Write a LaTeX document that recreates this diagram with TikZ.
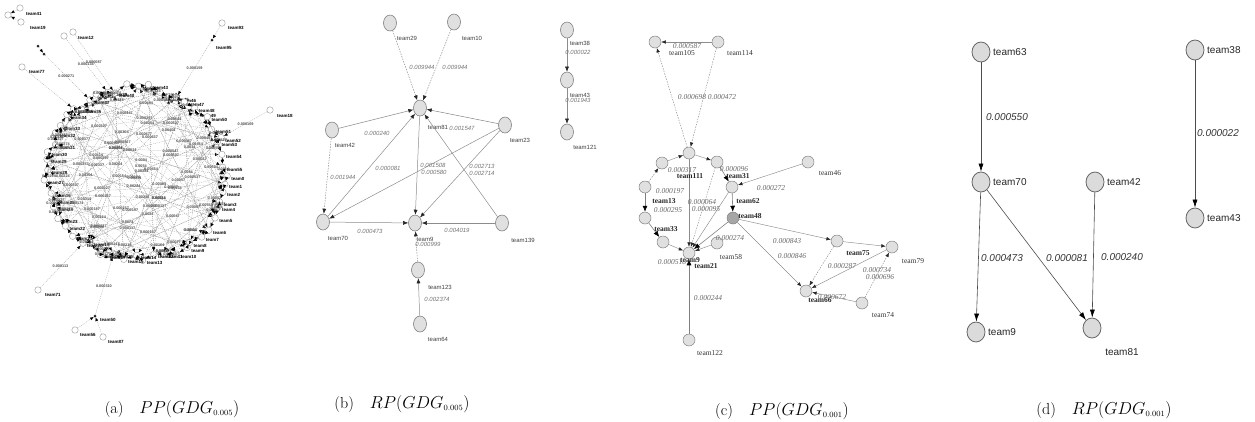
\documentclass[tikz,border=0pt]{standalone}
\usepackage{fontspec}
\newfontfamily\sfarial{Liberation Sans}
\newfontfamily\serifT{Liberation Serif}
\usetikzlibrary{arrows.meta,shapes.geometric}
\tikzset{
  ndd/.style={ellipse, draw=black!60, fill=black!14, line width=0.8pt, minimum width=18pt, minimum height=20pt, inner sep=0pt},
  ndb/.style={ellipse, draw=black!50, fill=black!12, line width=0.6pt, minimum width=13pt, minimum height=16pt, inner sep=0pt},
  ndc/.style={circle, draw=black!50, fill=black!12, line width=0.5pt, minimum size=12pt, inner sep=0pt},
  ndcg/.style={ndc, fill=black!35},
  nda/.style={circle, draw=black!45, fill=white, line width=0.35pt, minimum size=6.5pt, inner sep=0pt},
  ndak/.style={circle, fill=black!85, minimum size=3pt, inner sep=0pt},
  ed/.style={draw=black!70, line width=0.6pt, -{Latex[length=8pt,width=5pt,color=black]}},
  eb/.style={draw=black!45, line width=0.5pt, -{Latex[length=5pt,width=4pt,color=black!85]}},
  ebd/.style={eb, dash pattern=on 1.5pt off 1.2pt},
  ec/.style={draw=black!45, line width=0.45pt, -{Latex[length=4.5pt,width=3.5pt,color=black!85]}},
  ecd/.style={ec, dash pattern=on 1.5pt off 1.2pt},
  ecT/.style={draw=black!50, line width=0.6pt, -{Latex[length=6pt,width=5pt,color=black]}},
  ea/.style={draw=black!38, line width=0.3pt, dash pattern=on 1pt off 1pt, -{Latex[length=3.5pt,width=3pt,color=black]}},
  ear/.style={draw=black!60, line width=0.45pt, -{Latex[length=4pt,width=3.5pt,color=black]}},
  tld/.style={font=\sfarial\fontsize{10}{12}\selectfont, text=black!85, inner sep=0pt},
  eld/.style={font=\sfarial\itshape\fontsize{10}{12}\selectfont, text=black!80, inner sep=0pt},
  tlb/.style={font=\sfarial\fontsize{6}{7}\selectfont, text=black!75, inner sep=0pt},
  elb/.style={font=\sfarial\itshape\fontsize{6}{7}\selectfont, text=black!55, inner sep=0pt},
  tlc/.style={font=\serifT\fontsize{7.5}{9}\selectfont, text=black!80, inner sep=0pt},
  tlcb/.style={font=\serifT\bfseries\fontsize{7.5}{9}\selectfont, text=black!85, inner sep=0pt},
  elc/.style={font=\serifT\itshape\fontsize{7.5}{9}\selectfont, text=black!60, inner sep=0pt},
  tla/.style={font=\sfarial\bfseries\fontsize{4.5}{5}\selectfont, text=black, inner sep=0pt},
  ela/.style={font=\sfarial\bfseries\fontsize{3.8}{4}\selectfont, text=black!70, inner sep=0pt},
  captxt/.style={font=\fontsize{16}{19}\selectfont, inner sep=0pt},
}
\begin{document}
\begin{tikzpicture}[x=1pt,y=-1pt]
\useasboundingbox (0,0) rectangle (1255,421);

%% ---------------- panel (a) ----------------
\pgfmathsetseed{11}
\foreach \i in {0,...,55}{
  \pgfmathsetmacro\ang{\i*6.42857+3*rand}
  \pgfmathsetmacro\rr{1+0.05*rand}
  \node[nda] (a\i) at ({137+90*\rr*cos(\ang)},{173+86*\rr*sin(\ang)}) {};
  \node[tla, anchor=west] (al\i) at ({141+90*\rr*cos(\ang)},{176+86*\rr*sin(\ang)}) {team\i};
}
\foreach \i in {0,...,55}{
  \pgfmathtruncatemacro\j{mod(\i*17+9,56)}
  \pgfmathtruncatemacro\k{mod(\i*23+31,56)}
  \pgfmathtruncatemacro\m{mod(\i*13+20,56)}
  \pgfmathtruncatemacro\n{mod(\i+1,56)}
  \draw[ea] (a\i) -- node[ela, pos=0.3]{0.000\i 7} (a\j);
  \draw[ea] (a\i) -- node[ela]{0.00\i 4} (a\k);
  \draw[ea] (a\i) -- (a\m);
  \draw[ear] (a\i) -- (a\n);
}
\node[nda] (o1) at (8,15) {};
\node[nda] (o2) at (20,8) {};
\node[nda] (o3) at (21,22) {};
\node[ndak] (o12) at (38,46) {};
\node[ndak] (o13) at (44,54) {};
\node[nda] (o4) at (22,67) {};
\node[nda] (o5) at (64,36) {};
\node[nda] (o6) at (73,32) {};
\node[nda] (o7) at (222,23) {};
\node[ndak] (o14) at (212,40) {};
\node[nda] (o8) at (270,110) {};
\node[nda] (o9) at (38,290) {};
\node[ndak] (o15) at (95,316) {};
\node[nda] (o10) at (75,330) {};
\node[nda] (o11) at (103,337) {};
\node[tla, anchor=west] (ol1) at (26,14) {team41};
\node[tla, anchor=west] (ol2) at (30,28) {team19};
\node[tla, anchor=west] (ol4) at (29,72) {team77};
\node[tla, anchor=west] (ol5) at (78,38) {team12};
\node[tla, anchor=west] (ol7) at (228,28) {team93};
\node[tla, anchor=west] (ol14) at (216,48) {team95};
\node[tla, anchor=west] (ol8) at (277,116) {team18};
\node[tla, anchor=west] (ol9) at (45,295) {team71};
\node[tla, anchor=west] (ol10) at (80,335) {team56};
\node[tla, anchor=west] (ol11) at (108,342) {team87};
\node[tla, anchor=west] (ol15) at (100,320) {team50};
\draw[ea] (o2) -- (o1);
\draw[ea] (o3) -- (o1);
\draw[ea] (o12) -- (o13);
\draw[ea] (o13) -- node[ela]{0.000271} (a37);
\draw[ea] (o5) -- node[ela]{0.000134} (a39);
\draw[ea] (o6) -- node[ela]{0.000087} (a40);
\draw[ea] (o4) -- (a35);
\draw[ea] (o7) -- (o14);
\draw[ea] (o14) -- node[ela]{0.000159} (a46);
\draw[ea] (o8) -- node[ela]{0.000169} (a52);
\draw[ea] (o9) -- node[ela]{0.000113} (a20);
\draw[ea] (o15) -- node[ela]{0.000310} (a16);
\draw[ea] (o10) -- (o15);
\draw[ea] (o11) -- (o15);

%% ---------------- panel (b) ----------------
\node[ndb] (b29) at (390,23) {};
\node[ndb] (b10) at (454,22) {};
\node[ndb] (b81) at (420,108) {};
\node[ndb] (b42) at (332,130) {};
\node[ndb] (b23) at (505,125) {};
\node[ndb] (b70) at (323,222) {};
\node[ndb] (b9) at (415,223) {};
\node[ndb] (b139) at (502,223) {};
\node[ndb] (b123) at (418,270) {};
\node[ndb] (b64) at (420,324) {};
\node[ndb] (b38) at (567,30) {};
\node[ndb] (b43) at (567,80) {};
\node[ndb] (b121) at (567,132) {};
\node[tlb] (lb29) at (407,38) {team29};
\node[tlb] (lb10) at (472,38) {team10};
\node[tlb] (lb81) at (438,127) {team81};
\node[tlb] (lb42) at (345,145) {team42};
\node[tlb] (lb23) at (520,140) {team23};
\node[tlb] (lb70) at (338,238) {team70};
\node[tlb] (lb9) at (425,239) {team9};
\node[tlb] (lb139) at (523,240) {team139};
\node[tlb] (lb123) at (440,287) {team123};
\node[tlb] (lb64) at (438,339) {team64};
\node[tlb] (lb38) at (580,43) {team38};
\node[tlb] (lb43) at (580,95) {team43};
\node[tlb] (lb121) at (585,147) {team121};
\draw[ebd] (b29) -- (b81);
\draw[ebd] (b10) -- (b81);
\draw[eb] (b42) -- (b81);
\draw[eb] (b23) -- (b81);
\draw[ebd] (b42) -- (b70);
\draw[eb] (b70) -- (b81);
\draw[eb] (b81) -- (b9);
\draw[eb] (b23) -- (b70);
\draw[eb] (b23) -- (b9);
\draw[eb] (b139) -- (b81);
\draw[eb] (b70) -- (b9);
\draw[eb] (b139) -- (b9);
\draw[ebd] (b123) -- (b9);
\draw[eb] (b64) -- (b123);
\draw[eb] (b38) -- (b43);
\draw[eb] (b43) -- (b121);
\node[elb] (eb1) at (422,67) {0.009944};
\node[elb] (eb2) at (455,67) {0.009944};
\node[elb] (eb3) at (377,133) {0.000240};
\node[elb] (eb4) at (462,128) {0.001547};
\node[elb] (eb5) at (343,177) {0.001944};
\node[elb] (eb6) at (388,168) {0.000081};
\node[elb] (eb7) at (433,165) {0.001508};
\node[elb] (eb8) at (434,172) {0.000580};
\node[elb] (eb9) at (482,166) {0.002713};
\node[elb] (eb10) at (482,173) {0.002714};
\node[elb] (eb11) at (370,231) {0.000473};
\node[elb] (eb12) at (457,230) {0.004019};
\node[elb] (eb13) at (428,244) {0.000999};
\node[elb] (eb14) at (437,299) {0.002374};
\node[elb] (eb15) at (578,52) {0.000022};
\node[elb] (eb16) at (578,100) {0.001943};

%% ---------------- panel (c) ----------------
\node[ndc] (c105) at (655,42) {};
\node[ndc] (c114) at (718,42) {};
\node[ndc] (cT) at (689,153) {};
\node[ndc] (cLU) at (662,163) {};
\node[ndc] (cRU) at (717,162) {};
\node[ndc] (cLM) at (645,187) {};
\node[ndc] (cRM) at (732,187) {};
\node[ndc] (cLL) at (645,218) {};
\node[ndcg] (cRL) at (733,218) {};
\node[ndc] (cBL) at (663,242) {};
\node[ndc] (cB) at (689,253) {};
\node[ndc] (cBR) at (717,243) {};
\node[ndc] (c46) at (808,162) {};
\node[ndc] (c122) at (689,340) {};
\node[ndc] (cX1) at (837,241) {};
\node[ndc] (cX2) at (806,291) {};
\node[ndc] (c79) at (892,247) {};
\node[ndc] (c74) at (862,303) {};
\draw[ec] (c114) -- (c105);
\draw[ecd] (cT) -- (c105);
\draw[ecd] (c114) -- (cT);
\draw[ec] (cLU) -- (cT);
\draw[ec] (cT) -- (cRU);
\draw[ecT] (cRU) -- (cRM);
\draw[ecT] (cRM) -- (cRL);
\draw[ecd] (cLM) -- (cLU);
\draw[ecT] (cLM) -- (cLL);
\draw[ecT] (cLL) -- (cBL);
\draw[ec] (cBL) -- (cB);
\draw[ec] (cBR) -- (cB);
\draw[ec] (cT) -- (cB);
\draw[ecd] (cRU) -- (cB);
\draw[ec] (cRM) -- (cB);
\draw[ecT] (cRL) -- (cB);
\draw[ec] (c46) -- (cRM);
\draw[ecT] (c122) -- (cB);
\draw[ec] (cRL) -- (cX1);
\draw[ec] (cRL) -- (cX2);
\draw[ec] (cX1) -- (c79);
\draw[ecd] (cX1) -- (cX2);
\draw[ec] (c79) -- (cX2);
\draw[ec] (c74) -- (cX2);
\draw[ecd] (c74) -- (c79);
\node[tlc] (lc105) at (682,53) {team105};
\node[tlc] (lc114) at (740,53) {team114};
\node[tlc] (lc46) at (830,173) {team46};
\node[tlc] (lc122) at (710,353) {team122};
\node[tlc] (lc58) at (731,257) {team58};
\node[tlc] (lc79) at (913,261) {team79};
\node[tlc] (lc74) at (883,315) {team74};
\node[tlcb] (lcX2) at (820,300) {team66};
\node[tlcb] (lcX1) at (858,253) {team75};
\node[tlcb] (lcLU) at (690,176) {team111};
\node[tlcb] (lcLM) at (664,201) {team13};
\node[tlcb] (lcLL) at (666,229) {team33};
\node[tlcb] (lcRU) at (738,176) {team31};
\node[tlcb] (lcRM) at (748,201) {team62};
\node[tlcb] (lcRL) at (750,216) {team48};
\node[tlcb] (lcB) at (690,260) {team9};
\node[tlcb] (lcB2) at (706,266) {team21};
\node[elc] (ec1) at (687,46) {0.000587};
\node[elc] (ec2) at (692,97) {0.000698};
\node[elc] (ec3) at (722,97) {0.000472};
\node[elc] (ec4) at (771,188) {0.000272};
\node[elc] (ec5) at (708,298) {0.000244};
\node[elc] (ec6) at (787,241) {0.000843};
\node[elc] (ec7) at (792,256) {0.000846};
\node[elc] (ec8) at (842,266) {0.000287};
\node[elc] (ec9) at (877,270) {0.000734};
\node[elc] (ec10) at (880,277) {0.000696};
\node[elc] (ec11) at (832,297) {0.000672};
\node[elc] (ec12) at (682,170) {0.000317};
\node[elc] (ec13) at (670,191) {0.000197};
\node[elc] (ec14) at (668,210) {0.000295};
\node[elc] (ec15) at (702,202) {0.000064};
\node[elc] (ec16) at (706,209) {0.000095};
\node[elc] (ec17) at (734,169) {0.000096};
\node[elc] (ec18) at (730,238) {0.000274};
\node[elc] (ec19) at (672,262) {0.000518};

%% ---------------- panel (d) ----------------
\node[ndd] (d63) at (981,52) {};
\node[ndd] (d70) at (981,182) {};
\node[ndd] (d42) at (1095,182) {};
\node[ndd] (d38) at (1195,50) {};
\node[ndd] (d43) at (1195,218) {};
\node[ndd] (d9) at (976,332) {};
\node[ndd] (d81) at (1092,328) {};
\node[tld, anchor=west] (ld63) at (993,52) {team63};
\node[tld, anchor=west] (ld70) at (993,182) {team70};
\node[tld, anchor=west] (ld42) at (1107,182) {team42};
\node[tld, anchor=west] (ld38) at (1207,50) {team38};
\node[tld, anchor=west] (ld43) at (1207,218) {team43};
\node[tld, anchor=west] (ld9) at (988,332) {team9};
\node[tld] (ld81) at (1122,352) {team81};
\draw[ed] (d63) -- (d70);
\draw[ed] (d38) -- (d43);
\draw[ed] (d70) -- (d9);
\draw[ed] (d70) -- (d81);
\draw[ed] (d42) -- (d81);
\node[eld] (ed1) at (1007,117) {0.000550};
\node[eld] (ed2) at (1218,133) {0.000022};
\node[eld] (ed3) at (1002,258) {0.000473};
\node[eld] (ed4) at (1067,258) {0.000081};
\node[eld] (ed5) at (1122,257) {0.000240};

%% ---------------- captions ----------------
\node[captxt] (capa) at (172,409) {(a)\quad$PP(GDG_{\scriptscriptstyle 0.005})$};
\node[captxt] (capb) at (402,404) {(b)\quad$RP(GDG_{\scriptscriptstyle 0.005})$};
\node[captxt] (capc) at (782,411) {(c)\quad$PP(GDG_{\scriptscriptstyle 0.001})$};
\node[captxt] (capd) at (1104,410) {(d)\quad$RP(GDG_{\scriptscriptstyle 0.001})$};
\end{tikzpicture}
\end{document}
